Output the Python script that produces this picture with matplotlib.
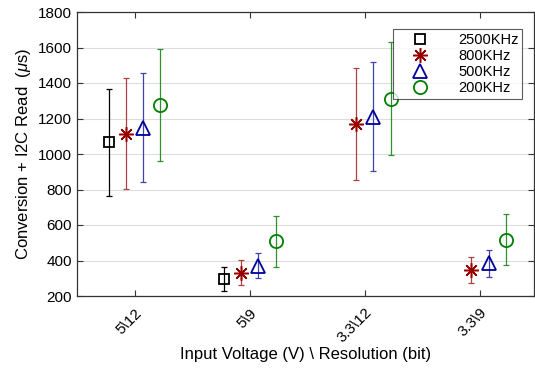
import matplotlib
matplotlib.use("Agg")
import matplotlib.pyplot as plt
import numpy as np

plt.rcParams['font.family'] = ['Liberation Sans', 'DejaVu Sans']
plt.rcParams['mathtext.fontset'] = 'custom'
plt.rcParams['mathtext.it'] = 'Liberation Sans:italic'
plt.rcParams['mathtext.rm'] = 'Liberation Sans'

categories = ["5\\12", "5\\9", "3.3\\12", "3.3\\9"]
series = ["2500KHz", "800KHz", "500KHz", "200KHz"]
means = {
    "2500KHz": [1065, 294, np.nan, np.nan],
    "800KHz": [1114, 331, 1169, 346],
    "500KHz": [1148, 371, 1210, 384],
    "200KHz": [1274, 508, 1312, 517],
}
errs = {
    "2500KHz": [300, 67, np.nan, np.nan],
    "800KHz": [313, 70, 317, 71],
    "500KHz": [306, 70, 306, 76],
    "200KHz": [315, 143, 318, 145],
}
colors = {"2500KHz": "#000000", "800KHz": "#990000", "500KHz": "#000099", "200KHz": "#008000"}
ecolors = {"2500KHz": "#000000", "800KHz": "#b04040", "500KHz": "#4040b0", "200KHz": "#309030"}
markers = {"2500KHz": "s", "800KHz": (8, 2, 0), "500KHz": "^", "200KHz": "o"}
sizes = {"2500KHz": 7.5, "800KHz": 10.5, "500KHz": 10.5, "200KHz": 9.5}
mews = {"2500KHz": 1.3, "800KHz": 1.1, "500KHz": 1.3, "200KHz": 1.3}
offsets = [-0.225, -0.075, 0.075, 0.225]

fig = plt.figure(figsize=(5.35, 3.72), dpi=100)
ax = fig.add_axes([77/535, 1-296/372, (534-77)/535, (296-12)/372])

x = np.arange(1, len(categories) + 1)
handles = []
for s, off in zip(series, offsets):
    ax.errorbar(x + off, means[s], yerr=errs[s], fmt='none', ecolor=ecolors[s],
                elinewidth=0.9, capsize=2.5, capthick=0.9, zorder=2)
    h, = ax.plot(x + off, means[s], linestyle='none', marker=markers[s], markersize=sizes[s],
                 markerfacecolor='none', markeredgecolor=colors[s], color=colors[s],
                 markeredgewidth=mews[s], label=s, zorder=3)
    handles.append(h)

ax.set_xlim(0.5, 4.47)
ax.set_ylim(200, 1800)
ax.set_yticks(np.arange(200, 1801, 200))
ax.set_xticks(x)
ax.set_xticklabels(categories, rotation=45, ha='right', rotation_mode='anchor', fontsize=11)
ax.tick_params(axis='y', labelsize=11)
ax.tick_params(axis='x', pad=7)
ax.tick_params(direction='in', top=True, right=True, length=4, width=0.8, color='#333333')
ax.yaxis.grid(True, color='#dddddd', linewidth=0.8)
ax.set_axisbelow(True)
for sp in ax.spines.values():
    sp.set_color('#333333')
    sp.set_linewidth(0.9)

ax.set_ylabel("Conversion + I2C Read  ($\\mu$s)", fontsize=12)
ax.set_xlabel("Input Voltage (V) \\ Resolution (bit)", fontsize=12, labelpad=1)

leg = ax.legend(handles=handles, loc='upper right', bbox_to_anchor=(0.974, 0.94),
                borderaxespad=0, fontsize=10.5, frameon=True, fancybox=False,
                edgecolor='#333333', borderpad=0.25, labelspacing=0.15,
                handletextpad=1.0, handlelength=3.2)
leg.get_frame().set_linewidth(0.8)

fig.savefig("out.png", dpi=100)
